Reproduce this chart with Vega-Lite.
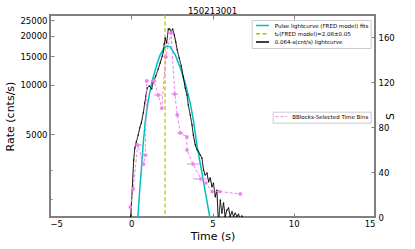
{
  "$schema": "https://vega.github.io/schema/vega-lite/v6.json",
  "width": 325,
  "height": 202,
  "autosize": {"type": "none"},
  "padding": {"left": 50, "top": 15, "right": 40, "bottom": 32},
  "title": {"text": "150213001", "fontSize": 8.6, "font": "DejaVu Sans", "fontWeight": "normal", "color": "#000000", "baseline": "alphabetic", "offset": -8.5},
  "config": {
    "view": {"stroke": "#808080", "strokeWidth": 2},
    "font": "DejaVu Sans",
    "axis": {
      "labelFont": "DejaVu Sans", "titleFont": "DejaVu Sans",
      "labelFontSize": 8.5, "titleFontSize": 11, "titleFontWeight": "normal",
      "labelColor": "#000000", "titleColor": "#000000",
      "domain": false, "grid": false,
      "tickColor": "#808080", "tickWidth": 1, "tickSize": -4
    },
    "legend": {
      "labelFont": "DejaVu Sans", "labelFontSize": 5.5, "labelColor": "#000000",
      "fillColor": "#ffffff", "strokeColor": "#cccccc", "labelLimit": 0
    }
  },
  "datasets": {
    "lc": [
      {"t": -0.05, "rate": 1200}, {"t": -0.03, "rate": 1570}, {"t": 0.06, "rate": 2265}, {"t": 0.15, "rate": 3467},
      {"t": 0.22, "rate": 4100}, {"t": 0.31, "rate": 4467}, {"t": 0.43, "rate": 4930}, {"t": 0.52, "rate": 5440},
      {"t": 0.62, "rate": 5840}, {"t": 0.74, "rate": 6730}, {"t": 0.83, "rate": 7740}, {"t": 0.90, "rate": 8550},
      {"t": 0.98, "rate": 9580}, {"t": 1.11, "rate": 9850}, {"t": 1.26, "rate": 9430}, {"t": 1.35, "rate": 10420},
      {"t": 1.51, "rate": 11350}, {"t": 1.66, "rate": 12530}, {"t": 1.78, "rate": 13640}, {"t": 1.91, "rate": 15060},
      {"t": 1.97, "rate": 15940}, {"t": 2.03, "rate": 17830}, {"t": 2.09, "rate": 19400}, {"t": 2.18, "rate": 18080},
      {"t": 2.28, "rate": 22020}, {"t": 2.37, "rate": 22020}, {"t": 2.44, "rate": 21130}, {"t": 2.55, "rate": 22020},
      {"t": 2.65, "rate": 20230}, {"t": 2.74, "rate": 18330}, {"t": 2.83, "rate": 16370}, {"t": 2.95, "rate": 14620},
      {"t": 3.08, "rate": 13060}, {"t": 3.20, "rate": 11190}, {"t": 3.32, "rate": 9580}, {"t": 3.43, "rate": 8670},
      {"t": 3.51, "rate": 7530}, {"t": 3.63, "rate": 6550}, {"t": 3.74, "rate": 5680}, {"t": 3.82, "rate": 4930},
      {"t": 3.94, "rate": 4280}, {"t": 4.05, "rate": 4000}, {"t": 4.14, "rate": 3900}, {"t": 4.25, "rate": 3715},
      {"t": 4.35, "rate": 3563}, {"t": 4.45, "rate": 3006}, {"t": 4.55, "rate": 2800}, {"t": 4.66, "rate": 2883},
      {"t": 4.76, "rate": 2548}, {"t": 4.86, "rate": 2686}, {"t": 4.97, "rate": 2377}, {"t": 5.06, "rate": 2500},
      {"t": 5.17, "rate": 2062}, {"t": 5.27, "rate": 2265}, {"t": 5.37, "rate": 1400}, {"t": 5.48, "rate": 1968},
      {"t": 5.58, "rate": 1637}, {"t": 5.68, "rate": 1888}, {"t": 5.78, "rate": 1560}, {"t": 5.89, "rate": 1710},
      {"t": 5.99, "rate": 1760}, {"t": 6.09, "rate": 1560}, {"t": 6.20, "rate": 1667}, {"t": 6.30, "rate": 1560},
      {"t": 6.40, "rate": 1637}, {"t": 6.50, "rate": 1560}, {"t": 6.60, "rate": 1614}, {"t": 6.71, "rate": 1500},
      {"t": 6.81, "rate": 1573}, {"t": 6.90, "rate": 1500}
    ],
    "fit": [
      {"t": 0.34, "rate": 1120}, {"t": 0.41, "rate": 1549}, {"t": 0.52, "rate": 2265}, {"t": 0.63, "rate": 3090},
      {"t": 0.74, "rate": 4400}, {"t": 0.86, "rate": 5930}, {"t": 1.05, "rate": 8090}, {"t": 1.27, "rate": 10430},
      {"t": 1.58, "rate": 13430}, {"t": 1.78, "rate": 15270}, {"t": 1.97, "rate": 16600}, {"t": 2.20, "rate": 17330},
      {"t": 2.40, "rate": 17100}, {"t": 2.71, "rate": 15270}, {"t": 3.02, "rate": 12700}, {"t": 3.32, "rate": 10280},
      {"t": 3.63, "rate": 7740}, {"t": 3.82, "rate": 6100}, {"t": 4.04, "rate": 4290}, {"t": 4.45, "rate": 2540},
      {"t": 4.83, "rate": 1549}, {"t": 4.92, "rate": 1325}
    ],
    "tp": [{"t": 2.08}],
    "bb": [
      {"t": -0.06, "S": 8.9, "lo": -0.1, "hi": -0.02},
      {"t": 0.12, "S": 25.0, "lo": 0.07, "hi": 0.17},
      {"t": 0.40, "S": 64.2, "lo": 0.23, "hi": 0.66},
      {"t": 0.76, "S": 47.2, "lo": 0.72, "hi": 0.80},
      {"t": 0.86, "S": 55.2, "lo": 0.66, "hi": 1.03},
      {"t": 0.95, "S": 121.2, "lo": 0.85, "hi": 1.05},
      {"t": 1.40, "S": 121.2, "lo": 1.25, "hi": 1.55},
      {"t": 1.66, "S": 108.7, "lo": 1.40, "hi": 1.89},
      {"t": 1.88, "S": 97.1, "lo": 1.85, "hi": 1.91},
      {"t": 2.12, "S": 142.6, "lo": 1.97, "hi": 2.28},
      {"t": 2.45, "S": 164.0, "lo": 2.26, "hi": 2.60},
      {"t": 2.68, "S": 109.6, "lo": 2.45, "hi": 2.88},
      {"t": 2.83, "S": 90.9, "lo": 2.80, "hi": 2.86},
      {"t": 3.02, "S": 74.9, "lo": 2.83, "hi": 3.20},
      {"t": 3.42, "S": 71.3, "lo": 3.38, "hi": 3.46},
      {"t": 3.43, "S": 59.7, "lo": 3.39, "hi": 3.47},
      {"t": 3.80, "S": 47.2, "lo": 3.42, "hi": 4.20},
      {"t": 4.29, "S": 33.9, "lo": 3.80, "hi": 4.65},
      {"t": 4.60, "S": 30.3, "lo": 4.55, "hi": 4.65},
      {"t": 4.98, "S": 22.7, "lo": 4.94, "hi": 5.02},
      {"t": 5.45, "S": 22.7, "lo": 5.35, "hi": 5.55},
      {"t": 6.71, "S": 20.5, "lo": 6.67, "hi": 6.75}
    ]
  },
  "layer": [
    {
      "layer": [
        {
          "data": {"name": "fit"},
          "mark": {"type": "line", "strokeWidth": 1.5, "clip": true},
          "encoding": {
            "x": {"field": "t", "type": "quantitative", "scale": {"domain": [-5, 15], "nice": false, "zero": false},
                  "axis": {"orient": "bottom", "values": [-5, 0, 5, 10, 15], "format": "d", "title": "Time (s)", "labelPadding": 6, "titlePadding": 3}},
            "y": {"field": "rate", "type": "quantitative", "scale": {"type": "log", "domain": [1549, 26840], "nice": false},
                  "axis": {"orient": "left", "values": [2000, 3000, 5000, 10000, 15000, 20000, 25000],
                           "labelExpr": "datum.value < 4000 ? '' : format(datum.value, 'd')",
                           "tickSize": {"condition": {"test": "datum.value < 4000", "value": -2}, "value": -4},
                           "title": "Rate (cnts/s)", "labelPadding": 7, "titlePadding": 4}},
            "color": {"datum": "Pulse lightcurve (FRED model) fits", "type": "nominal",
                      "scale": {"domain": ["Pulse lightcurve (FRED model) fits", "tₚ(FRED model)=2.08±0.05", "0.064-s(cnt/s) lightcurve"], "range": ["#00bfbf", "#bfbf00", "#000000"]},
                      "legend": {"orient": "none", "legendX": 201.7, "legendY": 5, "title": null, "symbolType": "M-2.6,0H2.6", "symbolSize": 25, "symbolStrokeWidth": 1.5, "padding": 2, "rowPadding": 1.3, "symbolOffset": 5.3, "labelOffset": 8.7}},
            "strokeDash": {"datum": "Pulse lightcurve (FRED model) fits", "type": "nominal",
                      "scale": {"domain": ["Pulse lightcurve (FRED model) fits", "tₚ(FRED model)=2.08±0.05", "0.064-s(cnt/s) lightcurve"], "range": [[1, 0], [4, 2.5], [1, 0]]},
                      "legend": {"orient": "none", "legendX": 201.7, "legendY": 5, "title": null, "symbolType": "M-2.6,0H2.6", "symbolSize": 25, "symbolStrokeWidth": 1.5, "padding": 2, "rowPadding": 1.3, "symbolOffset": 5.3, "labelOffset": 8.7}}
          }
        },
        {
          "data": {"name": "tp"},
          "mark": {"type": "rule", "strokeWidth": 1.2},
          "encoding": {
            "x": {"field": "t", "type": "quantitative"},
            "color": {"datum": "tₚ(FRED model)=2.08±0.05", "type": "nominal"},
            "strokeDash": {"datum": "tₚ(FRED model)=2.08±0.05", "type": "nominal"}
          }
        },
        {
          "data": {"name": "lc"},
          "mark": {"type": "line", "strokeWidth": 1, "clip": true, "point": {"filled": true, "size": 2, "color": "#000000"}},
          "encoding": {
            "x": {"field": "t", "type": "quantitative"},
            "y": {"field": "rate", "type": "quantitative"},
            "color": {"datum": "0.064-s(cnt/s) lightcurve", "type": "nominal"},
            "strokeDash": {"datum": "0.064-s(cnt/s) lightcurve", "type": "nominal"}
          }
        }
      ]
    },
    {
      "data": {"name": "bb"},
      "layer": [
        {
          "mark": {"type": "line", "strokeWidth": 1, "strokeDash": [3, 2]},
          "encoding": {
            "x": {"field": "t", "type": "quantitative",
                  "axis": {"orient": "top", "values": [-5, 0, 5, 10, 15], "labels": false, "title": null, "minExtent": 0, "maxExtent": 0}},
            "y": {"field": "S", "type": "quantitative", "scale": {"domain": [0, 180], "nice": false},
                  "axis": {"orient": "right", "values": [0, 20, 40, 60, 80, 100, 120, 140, 160, 180], "format": "d", "title": "S", "titleAngle": 270, "labelPadding": 7, "titlePadding": 1}},
            "order": {"field": "t", "type": "quantitative"},
            "color": {"datum": "BBlocks-Selected Time Bins", "type": "nominal",
                      "scale": {"domain": ["BBlocks-Selected Time Bins"], "range": ["#ee82ee"]},
                      "legend": {"orient": "none", "legendX": 222.7, "legendY": 96.7, "title": null, "symbolType": "M-2.3,0H2.3", "symbolSize": 25, "symbolStrokeWidth": 1, "symbolDash": [3, 2], "padding": 2, "symbolOffset": 3.6, "labelOffset": 8}}
          }
        },
        {
          "mark": {"type": "rule", "strokeWidth": 1, "color": "#ee82ee"},
          "encoding": {
            "x": {"field": "lo", "type": "quantitative"},
            "x2": {"field": "hi"},
            "y": {"field": "S", "type": "quantitative"}
          }
        },
        {
          "mark": {"type": "point", "filled": true, "size": 14, "color": "#ee82ee", "opacity": 1},
          "encoding": {
            "x": {"field": "t", "type": "quantitative"},
            "y": {"field": "S", "type": "quantitative"}
          }
        }
      ]
    }
  ],
  "resolve": {"scale": {"y": "independent", "color": "independent", "strokeDash": "independent"}, "axis": {"x": "independent"}}
}
